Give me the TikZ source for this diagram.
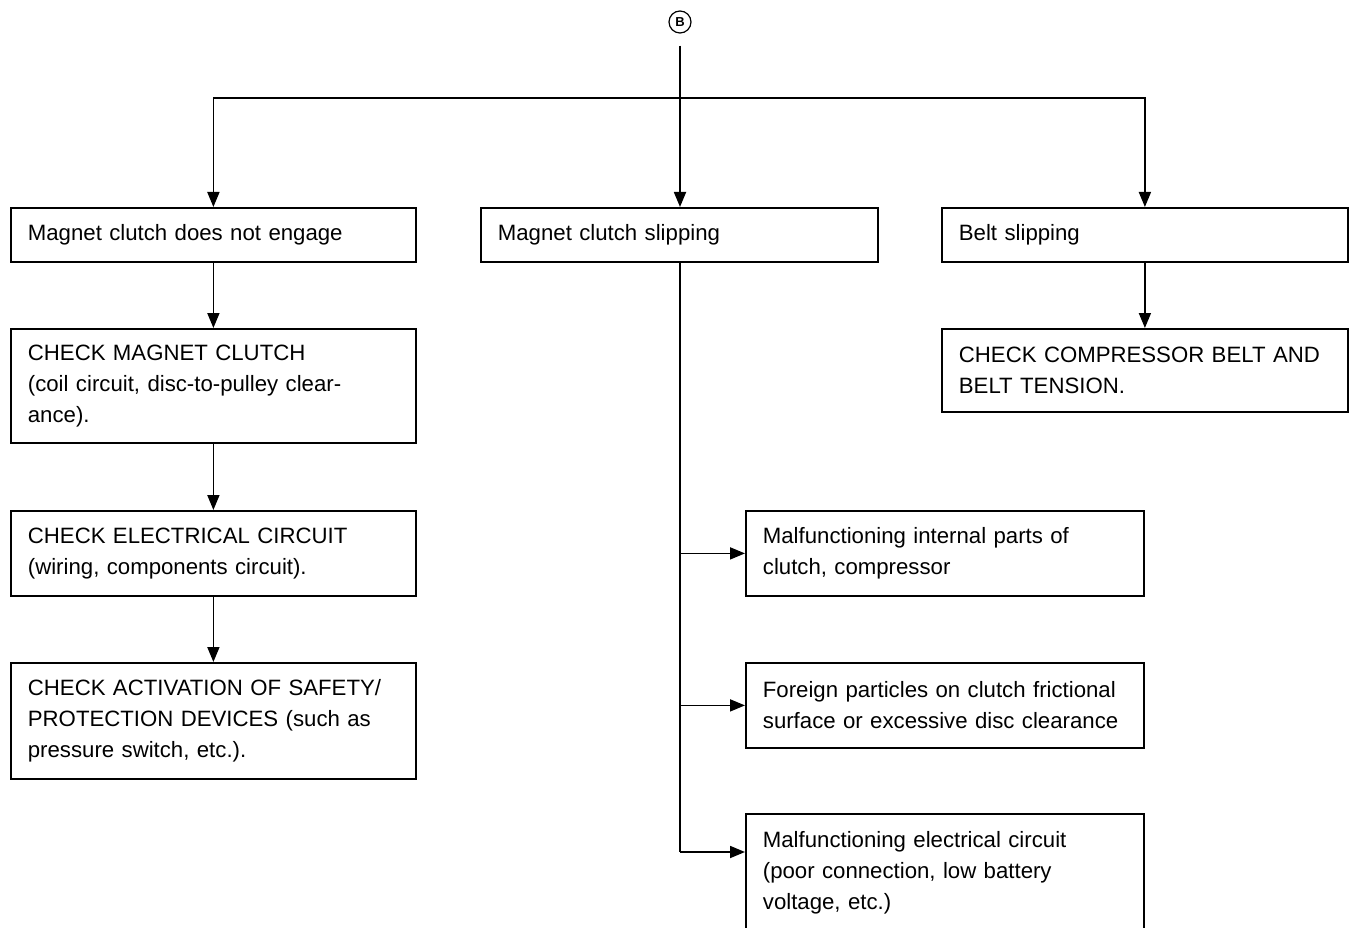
\documentclass[tikz,border=0pt]{standalone}
\usepackage{fontspec}
\setmainfont{Liberation Sans}
\usetikzlibrary{arrows.meta,calc}
\begin{document}
\begin{tikzpicture}[x=1pt,y=-1pt,
 box/.style={draw,line width=1.8pt,anchor=north west,inner xsep=17pt,inner ysep=0pt,align=left,font=\fontsize{22.2}{31}\selectfont},
 arr/.style={line width=1.8pt,-{Triangle[length=15pt,width=12pt]}},
 ln/.style={line width=1.8pt}]
\clip (0,0) rectangle (1349,928);
\node[draw,circle,minimum size=22pt,inner sep=0pt,line width=1.2pt,font=\fontsize{13}{13}\selectfont\bfseries] (bc) at (680,22) {B};
\coordinate (j) at (680,98);
% left column
\node[box,text width=371pt,minimum height=54pt] (a1) at (10,207) {Magnet clutch does not engage};
\node[box,text width=371pt,minimum height=114pt] (a2) at (10,328) {CHECK MAGNET CLUTCH\\(coil circuit, disc-to-pulley clear-\\ance).};
\node[box,text width=371pt,minimum height=85pt] (a3) at (10,510) {CHECK ELECTRICAL CIRCUIT\\(wiring, components circuit).};
\node[box,text width=371pt,minimum height=116pt] (a4) at (10,662) {CHECK ACTIVATION OF SAFETY/\\PROTECTION DEVICES (such as\\pressure switch, etc.).};
% middle
\node[box,text width=363pt,minimum height=54pt] (b1) at (480,207) {Magnet clutch slipping};
\node[box,text width=364pt,minimum height=85pt] (d1) at (745,510) {Malfunctioning internal parts of\\clutch, compressor};
\node[box,text width=364pt,minimum height=85pt] (d2) at (745,662) {Foreign particles on clutch frictional\\surface or excessive disc clearance};
\node[box,text width=364pt,minimum height=118pt] (d3) at (745,813) {Malfunctioning electrical circuit\\(poor connection, low battery\\voltage, etc.)};
% right
\node[box,text width=372pt,minimum height=54pt] (c1) at (941,207) {Belt slipping};
\node[box,text width=372pt,minimum height=83pt] (c2) at (941,328) {CHECK COMPRESSOR BELT AND\\BELT TENSION.};
% connectors
\draw[ln,shorten <=12pt] (bc.south) -- (j);
\draw[arr] (j) -| (a1.north);
\draw[arr] (j) -| (c1.north);
\draw[arr] (j) -- (j |- b1.north);
\draw[arr] (a1.south) -- (a2.north);
\draw[arr] (a2.south) -- (a3.north);
\draw[arr] (a3.south) -- (a4.north);
\draw[arr] (c1.south) -- (c2.north);
\coordinate (d3in) at ($(d3.north west)+(0,39)$);
\coordinate (m0) at (j |- b1.south);
\draw[ln] (m0) -- (m0 |- d3in);
\draw[arr] (m0 |- d1.west) -- (d1.west);
\draw[arr] (m0 |- d2.west) -- (d2.west);
\draw[arr] (m0 |- d3in) -- (d3in);
\end{tikzpicture}
\end{document}
